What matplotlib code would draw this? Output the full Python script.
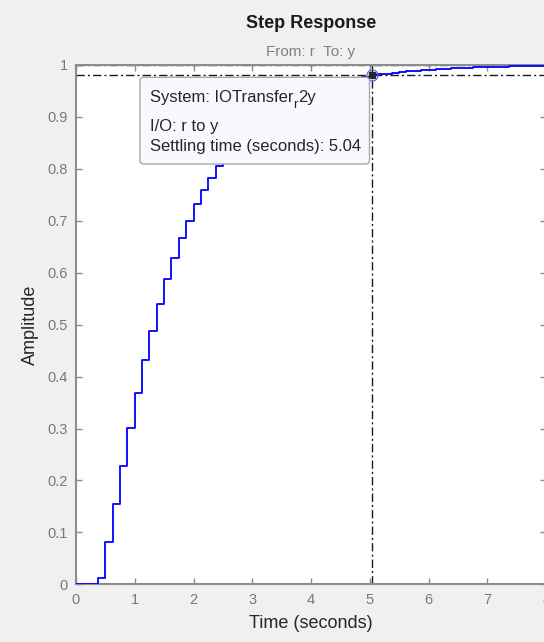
import numpy as np
import matplotlib
matplotlib.use('Agg')
import matplotlib.pyplot as plt
from matplotlib.patches import FancyBboxPatch

plt.rcParams['font.family'] = ['Liberation Sans', 'DejaVu Sans']

#-------------------------------------------------------
# Discrete step response (sample time Ts)
Ts = 0.125
y_step = [0.000, 0.000, 0.000, 0.012, 0.082, 0.155, 0.228, 0.301, 0.369, 0.432,
          0.488, 0.540, 0.587, 0.628, 0.667, 0.700, 0.732, 0.759, 0.782, 0.805,
          0.824, 0.842, 0.858, 0.872, 0.885, 0.896, 0.907, 0.916, 0.924, 0.932,
          0.939, 0.945, 0.950, 0.955, 0.960, 0.964, 0.967, 0.971, 0.974, 0.976,
          0.980, 0.982, 0.983, 0.985, 0.986, 0.988, 0.989, 0.990, 0.991, 0.992,
          0.993, 0.994, 0.994, 0.995, 0.996, 0.996, 0.997, 0.997, 0.997, 0.998,
          0.998, 0.998, 0.999, 0.999, 0.999]
t_step = np.arange(len(y_step)) * Ts

# settling time characteristic
t_settle = 5.04
y_settle = 0.98
y_final = 1.0

xticks = [0, 1, 2, 3, 4, 5, 6, 7, 8]
yticks = [0, 0.1, 0.2, 0.3, 0.4, 0.5, 0.6, 0.7, 0.8, 0.9, 1]
ytick_labels = ['0', '0.1', '0.2', '0.3', '0.4', '0.5', '0.6', '0.7', '0.8', '0.9', '1']

#-------------------------------------------------------
W, H = 544, 642
fig = plt.figure(figsize=(W / 100, H / 100), dpi=100, facecolor='#f0f0f0')
ax = fig.add_axes([76 / W, (H - 584.3) / H, 470 / W, 519.3 / H])
ax.set_facecolor('white')

ax.plot(t_step, y_step, drawstyle='steps-post', color='blue', lw=1.3, zorder=3)

dd = (6, 2.2, 1.5, 2.2)
ax.axhline(y_settle, color='#1a1a1a', lw=1.0, dashes=dd, zorder=2)
ax.axhline(y_final, color='#1a1a1a', lw=1.0, dashes=dd, zorder=2, clip_on=False)
ax.plot([t_settle, t_settle], [0, y_final], color='#1a1a1a', lw=1.0, dashes=dd, zorder=2)

ax.plot([t_settle], [y_settle], 'o', ms=8, mfc='none', mec='#5a5aff', mew=0.8, zorder=6, clip_on=False)
ax.plot([t_settle], [y_settle], 's', ms=5, color='#262626', zorder=7, clip_on=False)

ax.set_xlim(0, 8)
ax.set_ylim(0, 1)
ax.set_xticks(xticks)
ax.set_yticks(yticks)
ax.set_yticklabels(ytick_labels)
ax.tick_params(direction='in', length=4, width=1, color='#8c8c8c', labelcolor='#787878',
               labelsize=10.5, top=True, right=True, pad=6)
for s in ax.spines.values():
    s.set_color('#8c8c8c')
    s.set_linewidth(1.5)

ax.set_xlabel('Time (seconds)', fontsize=13, color='#262626', labelpad=6)
ax.set_ylabel('Amplitude', fontsize=13, color='#262626', labelpad=6)

fig.text(311 / W, 1 - 23.3 / H, 'Step Response', ha='center', va='center',
         fontsize=13, fontweight='bold', color='#1a1a1a')
fig.text(311 / W, 1 - 51.7 / H, 'From: r  To: y', ha='center', va='center',
         fontsize=11, color='#808080')

# data tip box
box = FancyBboxPatch((140 / W, 1 - 164 / H), 229.5 / W, 86.7 / H,
                     boxstyle='round,pad=0,rounding_size=0.007',
                     mutation_aspect=W / H, transform=fig.transFigure,
                     facecolor='#f9f9fd', edgecolor='#a8a8a8', lw=1.0, zorder=10)
fig.add_artist(box)

tip_fs = 12
tip_col = '#262626'
renderer = fig.canvas.get_renderer()
t1 = fig.text(150 / W, 1 - 97.3 / H, 'System: IOTransfer', ha='left', va='center',
              fontsize=tip_fs, color=tip_col, zorder=11)
x_end = t1.get_window_extent(renderer).x1
t2 = fig.text(x_end / W, 1 - 105 / H, 'r', ha='left', va='center',
              fontsize=tip_fs * 0.8, color=tip_col, zorder=11)
x_end = t2.get_window_extent(renderer).x1
fig.text(x_end / W, 1 - 97.3 / H, '2y', ha='left', va='center',
         fontsize=tip_fs, color=tip_col, zorder=11)
fig.text(150 / W, 1 - 126.0 / H, 'I/O: r to y', ha='left', va='center',
         fontsize=tip_fs, color=tip_col, zorder=11)
fig.text(150 / W, 1 - 146.7 / H, 'Settling time (seconds): 5.04', ha='left', va='center',
         fontsize=tip_fs, color=tip_col, zorder=11)

fig.savefig('out.png', dpi=100, facecolor=fig.get_facecolor())
